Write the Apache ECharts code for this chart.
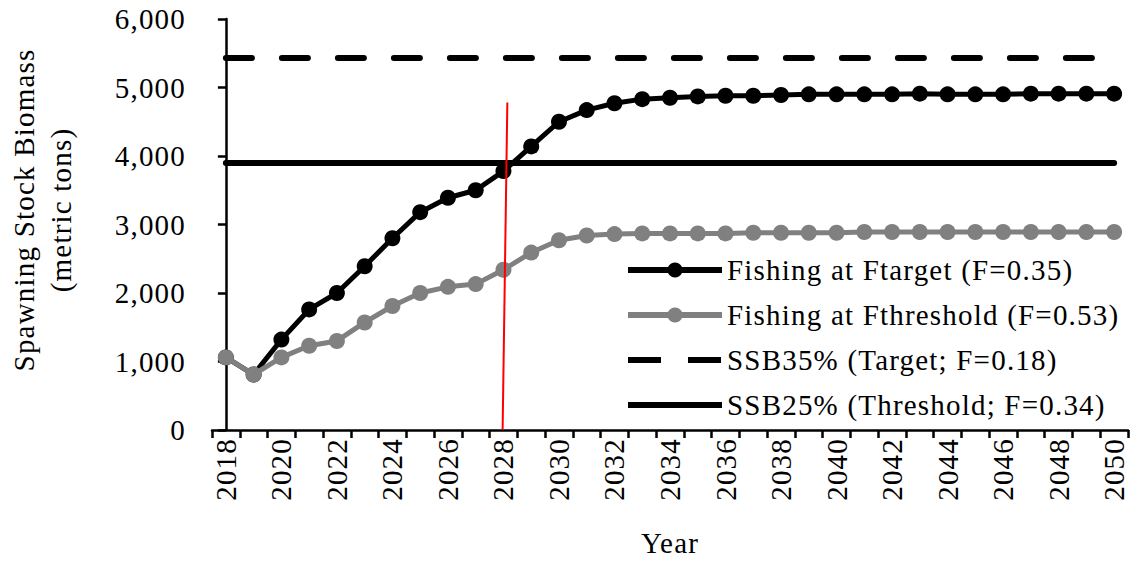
<!DOCTYPE html>
<html><head><meta charset="utf-8">
<script src="https://cdn.jsdelivr.net/npm/echarts@6/dist/echarts.min.js"></script>
<style>html,body{margin:0;padding:0;background:#fff}#c{width:1140px;height:562px;letter-spacing:1.2px}</style>
</head><body><div id="c"></div>
<script>
const years = ['2018','2019','2020','2021','2022','2023','2024','2025','2026','2027','2028','2029','2030','2031','2032','2033','2034','2035','2036','2037','2038','2039','2040','2041','2042','2043','2044','2045','2046','2047','2048','2049','2050'];
const fTarget = [1060, 810, 1320, 1760, 2000, 2390, 2800, 3180, 3390, 3500, 3780, 4140, 4500, 4670, 4770, 4830, 4850, 4870, 4880, 4880, 4890, 4900, 4900, 4900, 4900, 4910, 4900, 4900, 4900, 4910, 4910, 4910, 4910];
const fThreshold = [1060, 810, 1060, 1230, 1300, 1570, 1810, 2000, 2090, 2130, 2340, 2590, 2770, 2840, 2860, 2870, 2870, 2870, 2870, 2880, 2880, 2880, 2880, 2890, 2890, 2890, 2890, 2890, 2890, 2890, 2890, 2890, 2890];
const ssb35 = 5440;
const ssb25 = 3900;
const redLine = [[9.97, 0], [10.14, 4780]];
const seriesNames = ['Fishing at Ftarget (F=0.35)', 'Fishing at Fthreshold (F=0.53)', 'SSB35% (Target; F=0.18)', 'SSB25% (Threshold; F=0.34)'];
const yMin = 0, yMax = 6000, yStep = 1000;

const FONT = "'Liberation Serif', 'Times New Roman', serif";
const FS = 29;
const chart = echarts.init(document.getElementById('c'), null, {renderer: 'svg'});
chart.setOption({
  backgroundColor: '#fff',
  animation: false,
  grid: {left: 212, right: 12, top: 19, bottom: 131},
  legend: {
    data: [
      {name: seriesNames[0]},
      {name: seriesNames[1]},
      {name: seriesNames[2], itemStyle: {opacity: 0}, lineStyle: {type: [33, 27], cap: 'butt'}},
      {name: seriesNames[3], itemStyle: {opacity: 0}, lineStyle: {cap: 'butt'}}
    ],
    orient: 'vertical', left: 625, top: 255, padding: 0,
    itemWidth: 94, itemHeight: 19, itemGap: 15,
    lineStyle: {width: 6},
    textStyle: {fontSize: FS, fontFamily: FONT, color: '#000', lineHeight: 30}
  },
  xAxis: [{
    type: 'category', data: years, boundaryGap: true,
    axisLine: {lineStyle: {color: '#000', width: 2.5}},
    axisTick: {show: true, interval: 0, length: 8, lineStyle: {color: '#000', width: 2.5}},
    axisLabel: {interval: 1, rotate: 90, margin: 8, fontSize: FS, fontFamily: FONT, color: '#000'},
    splitLine: {show: false},
    name: 'Year', nameLocation: 'middle', nameGap: 98,
    nameTextStyle: {fontSize: FS, fontFamily: FONT, color: '#000'}
  }, {
    type: 'value', min: -0.5, max: years.length - 0.5, show: false
  }],
  yAxis: {
    type: 'value', min: yMin, max: yMax, interval: yStep,
    axisLine: {show: true, lineStyle: {color: '#000', width: 2.5}},
    axisTick: {show: true, length: 8, lineStyle: {color: '#000', width: 2.5}},
    axisLabel: {margin: 26, fontSize: FS, fontFamily: FONT, color: '#000',
      formatter: v => v.toLocaleString('en-US')},
    splitLine: {show: false}
  },
  graphic: [{
    type: 'text', x: 42, y: 210, rotation: Math.PI / 2,
    style: {text: 'Spawning Stock Biomass\n(metric tons)', align: 'center', verticalAlign: 'middle',
      fontSize: FS, fontFamily: FONT, fill: '#000', lineHeight: 37}
  }],
  series: [{
    name: seriesNames[0], type: 'line', data: fTarget, z: 3,
    symbol: 'circle', symbolSize: 16, showSymbol: true,
    lineStyle: {color: '#000', width: 5}, itemStyle: {color: '#000'}
  }, {
    name: seriesNames[1], type: 'line', data: fThreshold, z: 4,
    symbol: 'circle', symbolSize: 16, showSymbol: true,
    lineStyle: {color: '#808080', width: 5}, itemStyle: {color: '#808080'}
  }, {
    name: seriesNames[2], type: 'line', data: [], symbol: 'none',
    lineStyle: {color: '#000', width: 6, type: [26, 30], cap: 'round'}, itemStyle: {color: '#000'},
    markLine: {silent: true, symbol: 'none', label: {show: false},
      lineStyle: {color: '#000', width: 6, type: [26, 30], cap: 'round'},
      data: [[{coord: [years[0], ssb35]}, {coord: [years[years.length - 1], ssb35]}]]}
  }, {
    name: seriesNames[3], type: 'line', data: [], symbol: 'none',
    lineStyle: {color: '#000', width: 6, type: 'solid', cap: 'round'}, itemStyle: {color: '#000'},
    markLine: {silent: true, symbol: 'none', label: {show: false},
      lineStyle: {color: '#000', width: 6, type: 'solid', cap: 'round'},
      data: [[{coord: [years[0], ssb25]}, {coord: [years[years.length - 1], ssb25]}]]}
  }, {
    name: 'marker', type: 'line', xAxisIndex: 1, data: redLine, z: 6,
    symbol: 'none', lineStyle: {color: '#ff0000', width: 2}
  }]
});
</script></body></html>
